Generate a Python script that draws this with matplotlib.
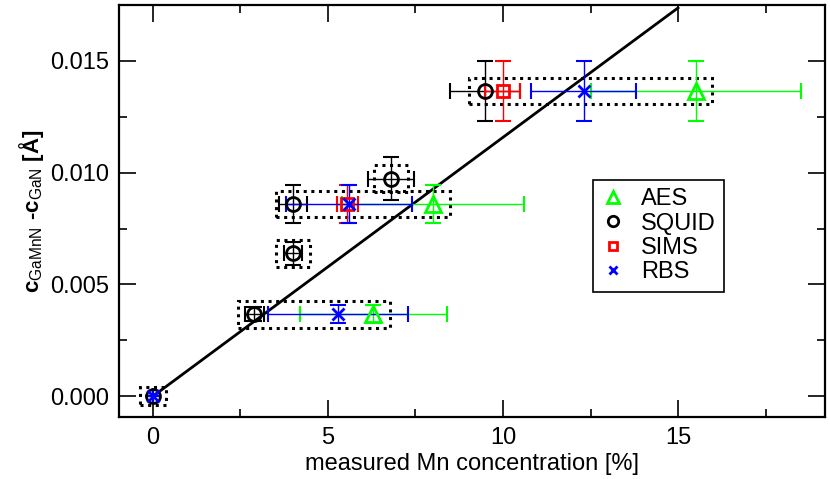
import numpy as np
import matplotlib
matplotlib.use("Agg")
import matplotlib.pyplot as plt
from matplotlib.patches import Rectangle

plt.rcParams['font.family'] = ['Liberation Sans', 'DejaVu Sans']
plt.rcParams['mathtext.fontset'] = 'custom'
plt.rcParams['mathtext.rm'] = 'Liberation Sans'

# sample levels (lattice difference, Angstrom)
aes_x = [6.3, 8.0, 15.5]
aes_xerr = [2.1, 2.6, 3.0]
aes_y = [0.00367, 0.0086, 0.01365]
aes_yerr = [0.0004, 0.00085, 0.00135]

squid_x = [0.0, 2.9, 4.0, 4.0, 6.8, 9.5]
squid_xerr = [0.0, 0.28, 0.25, 0.4, 0.65, 1.0]
squid_y = [0.0, 0.00367, 0.00639, 0.0086, 0.00973, 0.01365]
squid_yerr = [0.0, 0.0003, 0.0005, 0.00087, 0.00095, 0.00135]

sims_x = [5.55, 10.0]
sims_xerr = [0.3, 0.5]
sims_y = [0.0086, 0.01365]
sims_yerr = [0.00087, 0.00135]

rbs_x = [0.0, 5.3, 5.6, 12.3]
rbs_xerr = [0.0, 2.0, 1.8, 1.5]
rbs_y = [0.0, 0.00367, 0.0086, 0.01365]
rbs_yerr = [0.0, 0.0004, 0.00087, 0.00135]

fit_slope = 0.001158
fit_x = [0.0, 15.0]

series = [
    ("AES", aes_x, aes_xerr, aes_y, aes_yerr, "#00ff00", "^", 11),
    ("SQUID", squid_x, squid_xerr, squid_y, squid_yerr, "black", "o", 10),
    ("SIMS", sims_x, sims_xerr, sims_y, sims_yerr, "#ff0000", "s", 8.5),
    ("RBS", rbs_x, rbs_xerr, rbs_y, rbs_yerr, "#0000ff", "x", 8),
]

fig = plt.figure(figsize=(8.3, 4.79), dpi=100)
ax = fig.add_axes([0.1434, 0.1294, 0.8506, 0.8602])

# dotted boxes grouping the same sample
levels = sorted(set(squid_y))
for lev in levels:
    xs = []
    for s in series:
        xs += [xv for xv, yv in zip(s[1], s[3]) if yv == lev]
    if lev == 0.0:
        padx, pady = 0.36, 0.0004
    else:
        padx, pady = 0.48, 0.0006
    x0, x1 = min(xs) - padx, max(xs) + padx
    ax.add_patch(Rectangle((x0, lev - pady), x1 - x0, 2 * pady, fill=False,
                           ls=(0, (1, 1.5)), lw=2.2, ec="black", zorder=2))

ax.plot(fit_x, [fit_slope * v for v in fit_x], color="black", lw=2, zorder=3)

handles = []
for name, x, xe, y, ye, col, mk, ms in series:
    ax.errorbar(x, y, xerr=xe, yerr=ye, fmt="none", ecolor=col, elinewidth=1,
                capsize=6, capthick=1.5, zorder=4)
    h, = ax.plot(x, y, ls="none", marker=mk, ms=ms, mfc="none", mec=col,
                 mew=2, zorder=5, label=name)
    handles.append(h)

ax.set_xlim(-0.97, 19.2)
ax.set_ylim(-0.00093, 0.0175)
ax.set_xticks([0, 5, 10, 15])
ax.set_xticks([2.5, 7.5, 12.5, 17.5], minor=True)
ax.set_yticks([0.0, 0.005, 0.010, 0.015])
ax.set_yticklabels(["0.000", "0.005", "0.010", "0.015"])
ax.set_yticks([0.0025, 0.0075, 0.0125], minor=True)
ax.tick_params(which="both", direction="in", top=True, right=True, width=1.2)
ax.tick_params(which="major", length=12, labelsize=17, pad=7)
ax.tick_params(which="minor", length=6)
for sp in ax.spines.values():
    sp.set_linewidth(1.6)

ax.set_xlabel("measured Mn concentration [%]", fontsize=17, labelpad=3)
ax.set_ylabel(r"c$_{\mathrm{GaMnN}}$ -c$_{\mathrm{GaN}}$ [Å]", fontsize=16,
              fontweight="bold", labelpad=3)

leg = ax.legend(handles=handles, loc="upper left", bbox_to_anchor=(0.671, 0.575),
                borderaxespad=0, fontsize=17, fancybox=False, edgecolor="black",
                framealpha=1, handlelength=1.0, handletextpad=0.7,
                labelspacing=0.1, borderpad=0.35, markerscale=0.75)
leg.get_frame().set_linewidth(1.2)

fig.savefig("out.png", dpi=100)
